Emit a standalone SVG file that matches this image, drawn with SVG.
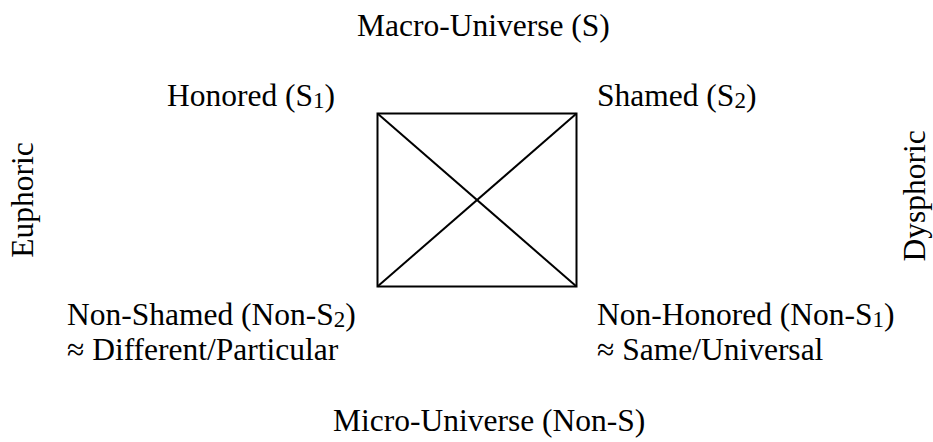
<svg xmlns="http://www.w3.org/2000/svg" width="933" height="442" viewBox="0 0 933 442">
<style>
text{font-family:"Liberation Serif","Times New Roman",serif;font-size:31.5px;fill:#000}
.sub{font-size:23px}
.ln{stroke:#000;stroke-width:2;fill:none}
</style>
<rect width="933" height="442" fill="#fff"/>
<g id="connectors">
<rect class="ln" x="377.5" y="113.5" width="199" height="173"/>
<line class="ln" x1="377.5" y1="113.5" x2="576.5" y2="286.5"/>
<line class="ln" x1="576.5" y1="113.5" x2="377.5" y2="286.5"/>
</g>
<g id="macro"><text x="357" y="36">Macro-Universe (S)</text></g>
<g id="honored"><text x="167" y="106">Honored (S<tspan class="sub" dy="2">1</tspan><tspan dy="-2">)</tspan></text></g>
<g id="shamed"><text x="597" y="106">Shamed (S<tspan class="sub" dy="2">2</tspan><tspan dy="-2">)</tspan></text></g>
<g id="euphoric"><text transform="translate(33,200) rotate(-90)" text-anchor="middle">Euphoric</text></g>
<g id="dysphoric"><text transform="translate(925,196) rotate(-90)" text-anchor="middle">Dysphoric</text></g>
<g id="nonshamed"><text x="67" y="325">Non-Shamed (Non-S<tspan class="sub" dy="2">2</tspan><tspan dy="-2">)</tspan></text>
<text x="67" y="360">≈ Different/Particular</text></g>
<g id="nonhonored"><text x="597" y="325">Non-Honored (Non-S<tspan class="sub" dy="2">1</tspan><tspan dy="-2">)</tspan></text>
<text x="597" y="360">≈ Same/Universal</text></g>
<g id="micro"><text x="333" y="431">Micro-Universe (Non-S)</text></g>
</svg>
